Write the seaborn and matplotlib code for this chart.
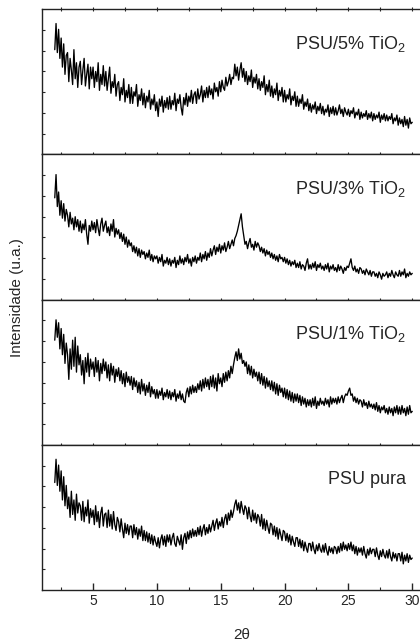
import numpy as np
import pandas as pd
import seaborn as sns
import matplotlib.pyplot as plt
from matplotlib.ticker import MultipleLocator, FixedLocator

# %% data (2theta from 2 to 30, step 0.1; intensity in panel units 0-100)
two_theta = np.round(np.arange(2.0, 30.05, 0.1), 1)

psu_5 = [72, 90, 70, 86, 66, 80, 60, 76, 55, 68,
         70, 50, 66, 58, 48, 72, 52, 63, 46, 60,
         64, 48, 58, 66, 47, 55, 62, 45, 60, 52,
         60, 46, 57, 50, 63, 44, 55, 48, 61, 47,
         57, 44, 52, 60, 42, 50, 46, 55, 40, 48,
         50, 37, 46, 41, 52, 36, 44, 39, 48, 35,
         46, 35, 43, 40, 48, 33, 41, 37, 45, 34,
         42, 32, 40, 36, 44, 31, 38, 34, 41, 30,
         36, 26, 38, 33, 40, 29, 37, 32, 39, 31,
         40, 31, 37, 34, 42, 30, 38, 35, 41, 32,
         27, 39, 34, 42, 33, 40, 36, 44, 35, 41,
         43, 35, 45, 38, 41, 47, 36, 44, 39, 46,
         39, 47, 41, 45, 38, 49, 43, 46, 40, 50,
         43, 51, 46, 44, 53, 47, 50, 55, 48, 53,
         52, 62, 54, 60, 51, 58, 63, 53, 59, 50,
         57, 48, 54, 50, 58, 46, 53, 49, 55, 45,
         52, 44, 50, 46, 54, 41, 48, 43, 51, 40,
         47, 39, 45, 41, 49, 37, 44, 40, 46, 36,
         44, 36, 41, 38, 45, 34, 40, 37, 43, 33,
         40, 33, 38, 35, 41, 31, 36, 33, 38, 30,
         35, 29, 34, 31, 36, 28, 33, 30, 35, 28,
         33, 27, 31, 29, 34, 26, 32, 28, 33, 27,
         32, 27, 30, 34, 28, 31, 26, 32, 29, 27,
         31, 26, 30, 28, 32, 25, 29, 27, 31, 24,
         29, 25, 28, 26, 30, 24, 28, 25, 29, 23,
         28, 24, 27, 25, 29, 22, 27, 24, 28, 23,
         27, 23, 26, 24, 28, 21, 25, 23, 27, 20,
         25, 21, 24, 19, 26, 20, 24, 18, 25, 21,
         22]

psu_3 = [70, 86, 64, 74, 58, 68, 56, 66, 54, 62,
         58, 50, 60, 52, 56, 48, 57, 50, 55, 47,
         54, 46, 52, 48, 55, 45, 38, 51, 47, 54,
         48, 53, 46, 55, 49, 44, 52, 56, 47, 51,
         54, 46, 50, 44, 52, 47, 55, 43, 49, 45,
         48, 42, 46, 40, 45, 38, 43, 36, 41, 37,
         39, 33, 37, 32, 36, 30, 35, 29, 34, 31,
         33, 28, 32, 29, 34, 27, 31, 26, 30, 28,
         30, 25, 29, 26, 31, 23, 27, 25, 29, 24,
         28, 23, 27, 25, 29, 22, 27, 24, 30, 25,
         28, 24, 29, 26, 31, 25, 28, 23, 29, 26,
         30, 25, 29, 27, 32, 26, 31, 28, 33, 27,
         32, 29, 35, 30, 34, 37, 31, 36, 33, 38,
         32, 37, 34, 39, 33, 36, 40, 35, 38, 41,
         37, 42, 44, 47, 51, 55, 59, 50, 44, 38,
         40, 35, 39, 42, 36, 38, 34, 40, 36, 39,
         37, 33, 36, 32, 35, 30, 34, 31, 33, 29,
         32, 28, 31, 27, 30, 26, 31, 28, 29, 26,
         29, 25, 28, 24, 27, 23, 26, 24, 27, 22,
         25, 22, 26, 21, 24, 23, 20, 25, 28, 21,
         24, 21, 25, 22, 26, 20, 24, 22, 25, 21,
         23, 20, 24, 21, 25, 19, 23, 21, 24, 20,
         22, 19, 24, 20, 23, 21, 18, 22, 20, 23,
         22, 25, 28, 22, 20, 23, 19, 21, 18, 22,
         21, 18, 20, 17, 21, 19, 17, 20, 16, 19,
         19, 16, 18, 15, 19, 17, 14, 18, 16, 17,
         19, 15, 18, 16, 20, 17, 15, 19, 17, 16,
         20, 16, 19, 17, 21, 15, 18, 16, 19, 17,
         18]

psu_1 = [72, 86, 74, 84, 66, 80, 62, 76, 56, 70,
         62, 45, 66, 52, 72, 54, 74, 50, 68, 55,
         62, 48, 58, 42, 60, 50, 63, 47, 59, 52,
         57, 47, 60, 50, 58, 44, 56, 49, 59, 51,
         57, 46, 55, 44, 56, 48, 54, 43, 52, 47,
         53, 44, 51, 42, 49, 40, 50, 43, 47, 41,
         47, 38, 46, 40, 44, 36, 43, 35, 45, 37,
         42, 34, 41, 36, 43, 33, 40, 35, 38, 32,
         38, 32, 37, 34, 39, 31, 36, 33, 38, 32,
         37, 31, 36, 33, 38, 30, 35, 32, 37, 31,
         35, 30, 29, 36, 39, 33, 40, 35, 41, 36,
         40, 36, 42, 38, 44, 37, 45, 39, 46, 40,
         45, 38, 47, 40, 48, 39, 46, 37, 49, 42,
         46, 40, 49, 43, 50, 44, 51, 46, 54, 49,
         55, 60, 64, 58, 66, 59, 63, 56, 58, 54,
         57, 49, 55, 48, 54, 46, 52, 47, 50, 44,
         50, 42, 49, 41, 47, 39, 46, 40, 44, 38,
         44, 37, 43, 35, 42, 34, 41, 36, 39, 33,
         39, 32, 38, 31, 37, 30, 36, 29, 35, 30,
         35, 29, 34, 27, 33, 28, 32, 26, 31, 27,
         31, 26, 32, 27, 33, 25, 30, 27, 32, 28,
         30, 27, 32, 28, 31, 26, 33, 28, 32, 29,
         32, 28, 33, 29, 32, 34, 29, 33, 35, 34,
         37, 39, 34, 35, 30, 33, 29, 32, 28, 31,
         30, 26, 31, 27, 29, 25, 30, 26, 28, 25,
         28, 24, 29, 23, 27, 22, 26, 24, 27, 22,
         25, 21, 26, 22, 25, 20, 26, 22, 27, 21,
         26, 21, 27, 22, 25, 20, 26, 21, 27, 22,
         23]

psu_pura = [74, 90, 72, 86, 68, 82, 62, 78, 58, 72,
            56, 64, 50, 68, 52, 62, 48, 66, 53, 60,
            58, 48, 61, 47, 57, 51, 62, 46, 56, 50,
            55, 45, 58, 47, 54, 43, 53, 57, 44, 52,
            53, 43, 55, 44, 52, 42, 54, 45, 41, 50,
            47, 40, 49, 42, 36, 46, 39, 45, 38, 44,
            44, 36, 45, 38, 43, 35, 42, 37, 44, 34,
            41, 34, 40, 33, 39, 32, 38, 31, 37, 33,
            30, 36, 29, 35, 38, 31, 37, 30, 38, 33,
            38, 31, 36, 39, 32, 30, 37, 34, 31, 38,
            28, 36, 39, 32, 40, 35, 41, 36, 42, 37,
            41, 37, 43, 38, 44, 37, 42, 45, 38, 43,
            39, 45, 40, 44, 48, 41, 46, 49, 42, 47,
            44, 50, 43, 49, 52, 45, 53, 48, 55, 50,
            54, 59, 62, 55, 60, 53, 61, 56, 52, 58,
            56, 49, 57, 51, 47, 55, 48, 53, 46, 52,
            50, 44, 52, 42, 49, 41, 48, 43, 39, 46,
            45, 38, 44, 37, 43, 35, 42, 38, 34, 41,
            40, 34, 39, 33, 38, 31, 37, 33, 30, 36,
            36, 30, 35, 29, 34, 27, 33, 29, 26, 32,
            32, 27, 33, 28, 25, 31, 27, 32, 28, 26,
            31, 26, 32, 27, 24, 30, 26, 29, 25, 30,
            29, 25, 30, 26, 32, 27, 33, 28, 31, 27,
            32, 28, 33, 27, 31, 25, 30, 24, 29, 26,
            29, 24, 30, 25, 22, 28, 24, 29, 25, 28,
            28, 23, 29, 24, 21, 27, 23, 28, 24, 22,
            27, 22, 28, 23, 20, 26, 22, 25, 20, 25,
            25, 20, 26, 18, 24, 20, 25, 19, 24, 21,
            22]

labels = ['PSU/5% TiO$_2$', 'PSU/3% TiO$_2$', 'PSU/1% TiO$_2$', 'PSU pura']
series = [psu_5, psu_3, psu_1, psu_pura]

# %% plotting
sns.set_style('ticks')
plt.rcParams['font.family'] = ['Liberation Sans', 'DejaVu Sans']
plt.rcParams['mathtext.fontset'] = 'custom'
plt.rcParams['mathtext.rm'] = 'Liberation Sans'
plt.rcParams['mathtext.it'] = 'Liberation Sans:italic'

fig, axes = plt.subplots(4, 1, sharex=True, figsize=(4.2, 6.44), dpi=100)
fig.subplots_adjust(left=42/420, right=425/420, top=1-9/644, bottom=1-590/644, hspace=0)

for i, (ax, vals, lab) in enumerate(zip(axes, series, labels)):
    df = pd.DataFrame({'two_theta': two_theta, 'intensity': vals})
    sns.lineplot(data=df, x='two_theta', y='intensity', ax=ax, color='black',
                 linewidth=0.95, estimator=None, sort=False)
    ax.set_xlim(1, 31)
    ax.set_ylim(0, 100)
    ax.set_xlabel('')
    ax.set_ylabel('')
    ax.yaxis.set_major_locator(FixedLocator(np.arange(1, 7) * 100 / 7))
    ax.set_yticklabels([])
    ax.tick_params(axis='y', direction='in', length=2, width=0.8)
    for sp in ax.spines.values():
        sp.set_linewidth(1.0)
        sp.set_color('#222222')
    ax.text(0.95, 0.76, lab, transform=ax.transAxes, ha='right', va='center', fontsize=13)

    ax.xaxis.set_major_locator(MultipleLocator(5))
    ax.xaxis.set_minor_locator(MultipleLocator(2.5))
    if i < 3:
        ax.tick_params(axis='x', which='both', direction='inout', length=2.5, width=0.8,
                       bottom=True, top=(i == 0), labelbottom=False)
    else:
        ax.tick_params(axis='x', which='major', direction='in', length=5, width=1.0,
                       top=False, labelsize=10, pad=3)
        ax.tick_params(axis='x', which='minor', direction='in', length=2.5, width=0.8, top=False)

fig.text(17/420, 1-298/644, 'Intensidade (u.a.)', rotation=90, ha='center', va='center', fontsize=11)
fig.text(242/420, 1-635/644, '2θ', ha='center', va='center', fontsize=11)

fig.savefig('out.png', dpi=100, facecolor='white')
